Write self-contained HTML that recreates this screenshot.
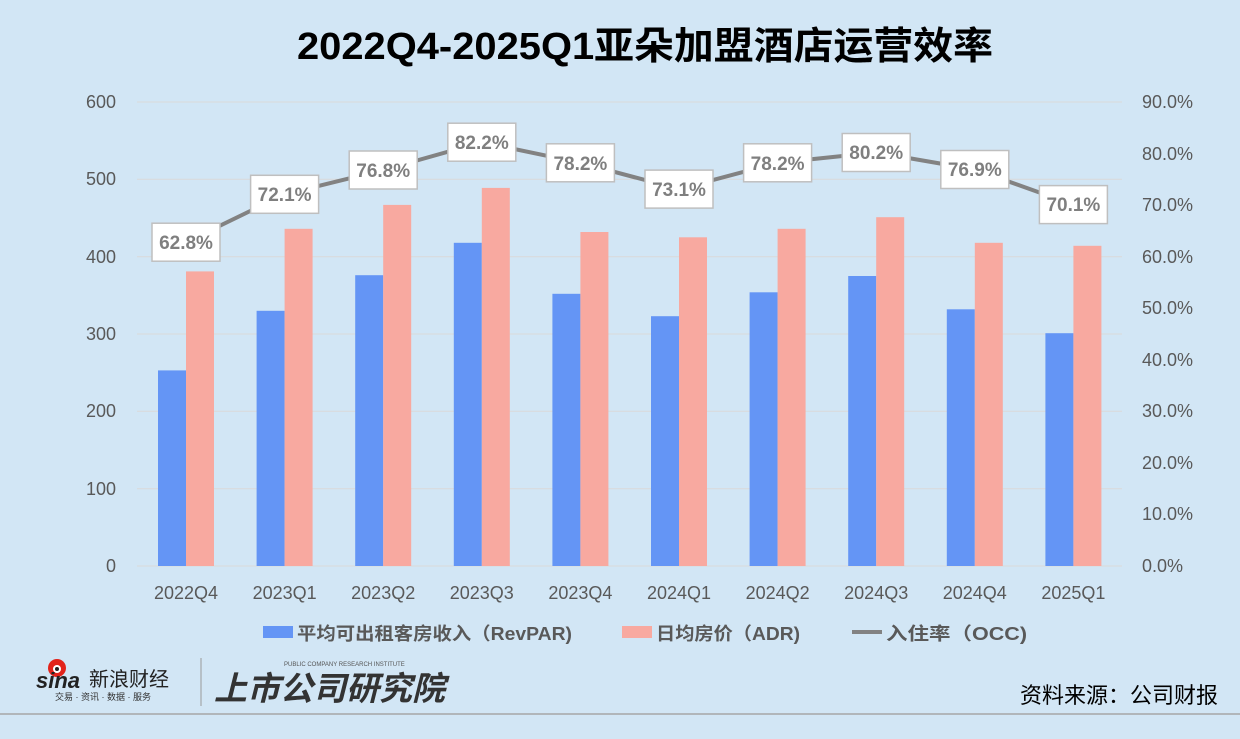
<!DOCTYPE html>
<html><head><meta charset="utf-8"><style>
body{margin:0;background:#D2E6F5;}
svg{display:block;font-family:"Liberation Sans","Noto Sans CJK SC",sans-serif;}
</style></head><body>
<svg width="1240" height="739" viewBox="0 0 1240 739">
<rect width="1240" height="739" fill="#D2E6F5"/>
<text x="297" y="59" font-size="38" font-weight="bold" fill="#000" textLength="696" lengthAdjust="spacingAndGlyphs">2022Q4-2025Q1亚朵加盟酒店运营效率</text>
<g stroke="#D9D9D9" stroke-width="1">
<line x1="137" x2="1122" y1="102" y2="102"/><line x1="137" x2="1122" y1="179.3" y2="179.3"/>
<line x1="137" x2="1122" y1="256.7" y2="256.7"/><line x1="137" x2="1122" y1="334" y2="334"/>
<line x1="137" x2="1122" y1="411.3" y2="411.3"/><line x1="137" x2="1122" y1="488.7" y2="488.7"/>
<line x1="137" x2="1122" y1="566" y2="566"/>
</g>
<g font-size="18" fill="#595959" text-anchor="end">
<text x="116" y="108">600</text><text x="116" y="185">500</text><text x="116" y="263">400</text>
<text x="116" y="340">300</text><text x="116" y="417">200</text><text x="116" y="495">100</text><text x="116" y="572">0</text>
</g>
<g font-size="18" fill="#595959">
<text x="1142" y="108">90.0%</text><text x="1142" y="160">80.0%</text><text x="1142" y="211">70.0%</text>
<text x="1142" y="263">60.0%</text><text x="1142" y="314">50.0%</text><text x="1142" y="366">40.0%</text>
<text x="1142" y="417">30.0%</text><text x="1142" y="469">20.0%</text><text x="1142" y="520">10.0%</text><text x="1142" y="572">0.0%</text>
</g>
<g fill="#6495F5">
<rect x="158" y="370.4" width="28" height="195.6"/><rect x="256.6" y="310.8" width="28" height="255.2"/>
<rect x="355.2" y="275.2" width="28" height="290.8"/><rect x="453.8" y="242.8" width="28" height="323.2"/>
<rect x="552.4" y="293.8" width="28" height="272.2"/><rect x="651" y="316.2" width="28" height="249.8"/>
<rect x="749.6" y="292.3" width="28" height="273.7"/><rect x="848.2" y="276" width="28" height="290"/>
<rect x="946.8" y="309.3" width="28" height="256.7"/><rect x="1045.4" y="333.2" width="28" height="232.8"/>
</g>
<g fill="#F8A9A0">
<rect x="186" y="271.4" width="28" height="294.6"/><rect x="284.6" y="228.8" width="28" height="337.2"/>
<rect x="383.2" y="204.9" width="28" height="361.1"/><rect x="481.8" y="187.9" width="28" height="378.1"/>
<rect x="580.4" y="232" width="28" height="334"/><rect x="679" y="237.3" width="28" height="328.7"/>
<rect x="777.6" y="228.8" width="28" height="337.2"/><rect x="876.2" y="217.2" width="28" height="348.8"/>
<rect x="974.8" y="242.8" width="28" height="323.2"/><rect x="1073.4" y="245.8" width="28" height="320.2"/>
</g>
<polyline fill="none" stroke="#828282" stroke-width="4" stroke-linejoin="round" points="186,242.2 284.6,194.3 383.2,170 481.8,142.2 580.4,162.8 679,189.1 777.6,162.8 876.2,152.5 974.8,169.5 1073.4,204.6"/>
<g fill="#fff" stroke="#BFBFBF" stroke-width="1.5">
<rect x="152" y="223.2" width="68" height="38"/><rect x="250.6" y="175.3" width="68" height="38"/>
<rect x="349.2" y="151" width="68" height="38"/><rect x="447.8" y="123.2" width="68" height="38"/>
<rect x="546.4" y="143.8" width="68" height="38"/><rect x="645" y="170.1" width="68" height="38"/>
<rect x="743.6" y="143.8" width="68" height="38"/><rect x="842.2" y="133.5" width="68" height="38"/>
<rect x="940.8" y="150.5" width="68" height="38"/><rect x="1039.4" y="185.6" width="68" height="38"/>
</g>
<g font-size="19" font-weight="bold" fill="#7F7F7F" text-anchor="middle">
<text x="186" y="249">62.8%</text><text x="284.6" y="201">72.1%</text><text x="383.2" y="177">76.8%</text>
<text x="481.8" y="149">82.2%</text><text x="580.4" y="170">78.2%</text><text x="679" y="196">73.1%</text>
<text x="777.6" y="170">78.2%</text><text x="876.2" y="159">80.2%</text><text x="974.8" y="176">76.9%</text><text x="1073.4" y="211">70.1%</text>
</g>
<g font-size="18" fill="#595959" text-anchor="middle">
<text x="186" y="599">2022Q4</text><text x="284.6" y="599">2023Q1</text><text x="383.2" y="599">2023Q2</text>
<text x="481.8" y="599">2023Q3</text><text x="580.4" y="599">2023Q4</text><text x="679" y="599">2024Q1</text>
<text x="777.6" y="599">2024Q2</text><text x="876.2" y="599">2024Q3</text><text x="974.8" y="599">2024Q4</text><text x="1073.4" y="599">2025Q1</text>
</g>
<rect x="263" y="626" width="30" height="12" fill="#6495F5"/>
<text x="297" y="640" font-size="18" font-weight="bold" fill="#595959" textLength="275" lengthAdjust="spacingAndGlyphs">平均可出租客房收入（RevPAR)</text>
<rect x="622" y="626" width="30" height="12" fill="#F8A9A0"/>
<text x="656" y="640" font-size="18" font-weight="bold" fill="#595959" textLength="144" lengthAdjust="spacingAndGlyphs">日均房价（ADR)</text>
<line x1="852" x2="882" y1="632" y2="632" stroke="#828282" stroke-width="4"/>
<text x="886" y="640" font-size="18" font-weight="bold" fill="#595959" textLength="141" lengthAdjust="spacingAndGlyphs">入住率（OCC)</text>
<circle cx="57" cy="668" r="9" fill="#E2231A"/><circle cx="57" cy="669" r="4" fill="#fff"/><circle cx="57" cy="669" r="2" fill="#222"/>
<text x="36" y="688" font-size="22" font-weight="bold" font-style="italic" fill="#222">sina</text>
<text x="89" y="686" font-size="20" fill="#222">新浪财经</text>
<text x="55" y="700" font-size="9" fill="#333">交易 · 资讯 · 数据 · 服务</text>
<line x1="201" x2="201" y1="658" y2="706" stroke="#999" stroke-width="1"/>
<text x="284" y="666" font-size="6" fill="#555">PUBLIC COMPANY RESEARCH INSTITUTE</text>
<text x="214" y="700" font-size="33" font-weight="bold" font-style="italic" fill="#333">上市公司研究院</text>
<text x="1218" y="703" font-size="22" fill="#000" text-anchor="end">资料来源：公司财报</text>
<line x1="0" x2="1240" y1="714" y2="714" stroke="#A6A6A6" stroke-width="1.5"/>
</svg>
</body></html>
